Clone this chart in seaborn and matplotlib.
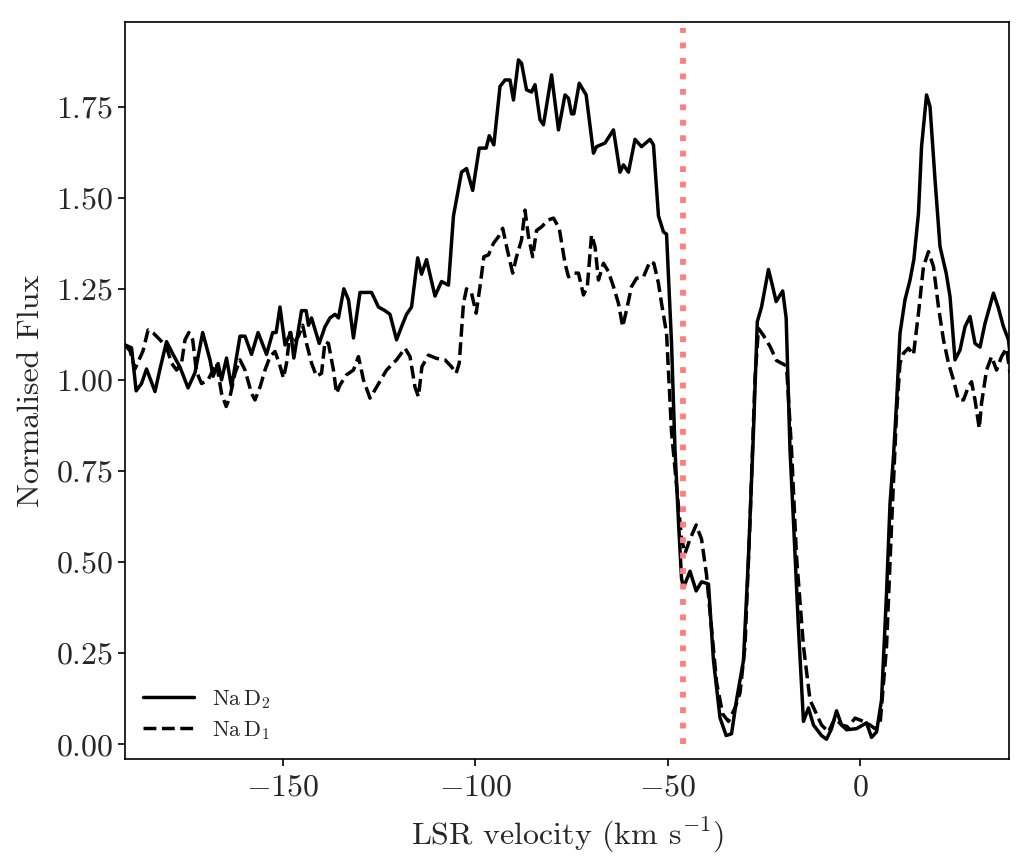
import matplotlib
matplotlib.use("Agg")
import matplotlib.pyplot as plt
import seaborn as sns
import pandas as pd

# Na D2 profile (LSR velocity in km/s, normalised flux)
d2_velocity = [
    -191.1, -189.4, -188.2, -186.8, -185.5, -183.3, -182.0, -180.3, -178.6, -176.8,
    -174.7, -172.9, -170.9, -169.0, -168.2, -166.9, -166.0, -164.7, -163.4, -161.2,
    -159.9, -158.2, -156.5, -154.3, -152.7, -151.8, -150.8, -149.5, -148.0, -147.2,
    -145.2, -144.0, -143.4, -142.6, -140.6, -139.1, -137.8, -136.5, -135.6, -134.2,
    -133.0, -131.7, -130.0, -127.0, -125.2, -123.5, -122.2, -120.5, -119.2, -117.9,
    -116.6, -115.0, -114.0, -112.7, -110.5, -108.8, -107.0, -105.7, -103.6, -102.3,
    -100.7, -99.0, -97.2, -96.4, -95.2, -93.6, -92.3, -91.0, -90.1, -88.8,
    -88.0, -86.7, -85.4, -84.5, -83.2, -82.3, -80.2, -78.4, -76.7, -75.8,
    -75.0, -74.4, -73.0, -71.2, -69.3, -68.5, -66.3, -64.1, -62.4, -61.5,
    -60.2, -58.5, -56.8, -54.6, -53.7, -52.4, -51.1, -50.3, -49.0, -48.1,
    -47.2, -46.4, -45.9, -44.2, -42.6, -41.2, -39.4, -38.1, -36.4, -34.8,
    -33.4, -32.1, -30.3, -29.0, -27.7, -26.7, -25.6, -23.8, -23.0, -21.8,
    -20.1, -19.2, -18.2, -17.3, -16.0, -14.7, -13.4, -12.1, -10.0, -8.7,
    -7.4, -6.1, -4.8, -3.5, -0.9, 1.7, 3.0, 4.3, 5.6, 6.9,
    7.8, 8.7, 9.5, 10.4, 11.7, 13.0, 14.0, 15.2, 16.0, 17.3,
    18.2, 19.5, 20.8, 22.4, 23.4, 24.7, 26.0, 27.3, 28.6, 29.9,
    31.2, 32.5, 34.7, 35.9, 37.3, 38.6, 39.5,
]
d2_flux = [
    1.096, 1.088, 0.970, 0.990, 1.030, 0.968, 1.030, 1.105, 1.070, 1.035,
    0.978, 1.020, 1.130, 1.055, 1.010, 1.045, 1.000, 1.060, 0.980, 1.120,
    1.120, 1.070, 1.130, 1.070, 1.130, 1.130, 1.200, 1.096, 1.130, 1.060,
    1.190, 1.190, 1.150, 1.170, 1.100, 1.146, 1.170, 1.180, 1.170, 1.250,
    1.220, 1.115, 1.240, 1.240, 1.200, 1.190, 1.180, 1.110, 1.146, 1.180,
    1.200, 1.335, 1.290, 1.330, 1.230, 1.270, 1.260, 1.450, 1.570, 1.580,
    1.520, 1.636, 1.636, 1.670, 1.645, 1.805, 1.823, 1.823, 1.768, 1.878,
    1.869, 1.796, 1.790, 1.810, 1.714, 1.700, 1.837, 1.686, 1.782, 1.773,
    1.730, 1.730, 1.814, 1.782, 1.622, 1.640, 1.650, 1.686, 1.570, 1.590,
    1.570, 1.660, 1.640, 1.660, 1.645, 1.450, 1.406, 1.400, 1.100, 0.808,
    0.612, 0.455, 0.430, 0.475, 0.421, 0.446, 0.440, 0.230, 0.073, 0.024,
    0.029, 0.122, 0.230, 0.514, 0.857, 1.160, 1.200, 1.303, 1.269, 1.215,
    1.244, 1.170, 0.808, 0.612, 0.318, 0.063, 0.100, 0.053, 0.024, 0.014,
    0.043, 0.092, 0.053, 0.040, 0.043, 0.059, 0.019, 0.034, 0.122, 0.416,
    0.660, 0.790, 0.936, 1.128, 1.220, 1.274, 1.330, 1.457, 1.640, 1.782,
    1.750, 1.550, 1.366, 1.293, 1.229, 1.055, 1.082, 1.146, 1.174, 1.100,
    1.090, 1.155, 1.238, 1.200, 1.146, 1.110, 1.020,
]

# Na D1 profile
d1_velocity = [
    -191.1, -189.8, -188.5, -186.4, -185.1, -183.7, -182.0, -180.3, -179.0, -177.7,
    -176.4, -175.5, -174.5, -173.5, -172.6, -172.0, -171.2, -169.5, -167.3, -166.0,
    -164.8, -163.8, -162.5, -161.2, -159.9, -158.2, -157.3, -156.0, -154.7, -153.4,
    -152.1, -151.0, -149.9, -149.1, -148.2, -147.3, -146.0, -144.9, -143.9, -142.6,
    -141.3, -140.0, -139.1, -138.2, -136.9, -136.1, -135.2, -133.5, -131.7, -130.4,
    -129.1, -127.4, -125.7, -123.1, -120.5, -118.3, -117.0, -115.7, -114.8, -113.9,
    -112.2, -110.1, -107.9, -106.2, -105.0, -104.2, -103.1, -102.3, -101.0, -99.8,
    -98.8, -97.8, -96.6, -95.3, -94.0, -92.9, -91.7, -90.3, -89.3, -88.0,
    -87.1, -86.2, -85.1, -84.1, -82.8, -81.0, -79.7, -78.2, -76.7, -75.8,
    -74.5, -73.2, -71.9, -70.9, -69.8, -68.9, -68.0, -66.7, -65.4, -64.1,
    -62.8, -61.7, -60.7, -59.4, -58.1, -56.3, -54.6, -53.6, -52.4, -51.6,
    -50.3, -49.0, -47.7, -46.4, -45.5, -44.2, -42.6, -41.2, -39.9, -38.6,
    -37.3, -35.7, -34.2, -32.5, -31.2, -29.9, -28.6, -27.3, -26.4, -25.1,
    -23.4, -21.7, -19.9, -19.1, -17.8, -16.5, -14.7, -13.0, -11.7, -10.0,
    -8.2, -6.5, -4.8, -3.0, -1.3, 0.9, 2.6, 3.9, 5.2, 6.9,
    8.2, 9.5, 10.4, 11.3, 12.6, 13.9, 15.2, 16.5, 17.8, 19.1,
    20.4, 21.7, 23.0, 24.3, 25.6, 26.9, 28.2, 29.0, 29.9, 31.0,
    31.6, 32.9, 34.2, 35.5, 36.8, 38.1, 39.0,
]
d1_flux = [
    1.096, 1.080, 1.030, 1.080, 1.137, 1.128, 1.110, 1.090, 1.046, 1.027,
    1.046, 1.110, 1.130, 1.110, 1.030, 1.010, 0.990, 1.000, 1.046, 0.963,
    0.927, 0.954, 1.018, 1.055, 1.027, 0.963, 0.945, 0.980, 1.027, 1.064,
    1.078, 1.046, 1.005, 1.046, 1.130, 1.100, 1.120, 1.150, 1.100, 1.046,
    1.010, 1.018, 1.105, 1.100, 1.027, 0.963, 0.986, 1.014, 1.027, 1.064,
    1.000, 0.950, 0.980, 1.027, 1.055, 1.087, 1.064, 0.980, 0.954, 1.036,
    1.068, 1.059, 1.055, 1.036, 1.018, 1.046, 1.210, 1.250, 1.238, 1.183,
    1.256, 1.338, 1.343, 1.375, 1.393, 1.416, 1.357, 1.293, 1.338, 1.384,
    1.466, 1.393, 1.338, 1.410, 1.420, 1.439, 1.444, 1.416, 1.320, 1.283,
    1.293, 1.293, 1.233, 1.256, 1.398, 1.366, 1.274, 1.320, 1.297, 1.256,
    1.210, 1.146, 1.192, 1.256, 1.279, 1.283, 1.325, 1.320, 1.265, 1.210,
    1.128, 0.857, 0.710, 0.563, 0.524, 0.563, 0.602, 0.563, 0.465, 0.318,
    0.171, 0.083, 0.063, 0.100, 0.141, 0.269, 0.612, 1.004, 1.141, 1.122,
    1.092, 1.053, 1.043, 1.038, 0.808, 0.514, 0.269, 0.122, 0.092, 0.053,
    0.034, 0.072, 0.053, 0.048, 0.072, 0.063, 0.053, 0.043, 0.053, 0.269,
    0.600, 0.909, 1.046, 1.073, 1.087, 1.069, 1.183, 1.311, 1.352, 1.311,
    1.200, 1.110, 1.046, 1.000, 0.945, 0.945, 0.982, 0.995, 0.945, 0.867,
    0.936, 1.027, 1.064, 1.027, 1.064, 1.087, 1.018,
]

marker_velocity = -46.1
marker_top = 1.965

sns.set_theme(style="ticks")
plt.rcParams["font.family"] = "serif"
plt.rcParams["font.serif"] = ["cmr10", "DejaVu Serif"]
plt.rcParams["mathtext.fontset"] = "cm"
plt.rcParams["axes.formatter.use_mathtext"] = True
plt.rcParams["axes.unicode_minus"] = True

d2 = pd.DataFrame({"velocity": d2_velocity, "flux": d2_flux})
d1 = pd.DataFrame({"velocity": d1_velocity, "flux": d1_flux})

fig = plt.figure(figsize=(10.33, 8.64), dpi=100)
ax = fig.add_axes([0.121, 0.1212, 0.856, 0.8533])

sns.lineplot(data=d2, x="velocity", y="flux", ax=ax, color="black",
             linewidth=2.5, label=r"$\mathrm{Na\,D_2}$")
sns.lineplot(data=d1, x="velocity", y="flux", ax=ax, color="black",
             linewidth=2.5, linestyle="--", label=r"$\mathrm{Na\,D_1}$")

ax.vlines(marker_velocity, 0, marker_top, colors="#ff7f7f",
          linestyles=":", linewidth=4.2, zorder=3)

ax.set_xlim(-191.1, 38.8)
ax.set_ylim(-0.041, 1.982)
ax.set_xticks([-150, -100, -50, 0])
ax.set_yticks([0, 0.25, 0.5, 0.75, 1.0, 1.25, 1.5, 1.75])

ax.set_xlabel(r"LSR velocity (km s$^{-1}$)", fontsize=23, labelpad=10)
ax.set_ylabel("Normalised Flux", fontsize=23, labelpad=8)
ax.tick_params(axis="both", labelsize=23, direction="out", length=5,
               width=1.2, color="black", top=False, right=False)
ax.tick_params(axis="x", pad=6)
for spine in ax.spines.values():
    spine.set_color("black")
    spine.set_linewidth(1.2)

ax.legend(loc="lower left", frameon=False, fontsize=16, handlelength=2.3,
          borderaxespad=0.4, labelspacing=0.35)

fig.savefig("out.png", dpi=100)
